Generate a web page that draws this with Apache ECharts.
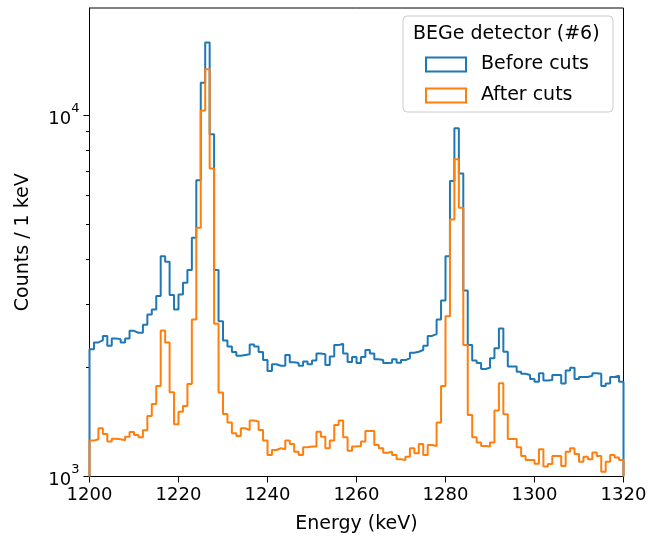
<!DOCTYPE html>
<html>
<head>
<meta charset="utf-8">
<script src="https://cdn.jsdelivr.net/npm/echarts@6/dist/echarts.min.js"></script>
<style>
  html, body { margin: 0; padding: 0; background: #fff; }
  #chart { width: 659px; height: 539px; }
</style>
</head>
<body>
<div id="chart"></div>
<script>
// 1 keV bins from 1200 to 1320
const binStart = 1200
const binWidth = 1

const beforeCuts = [
  2250, 2350, 2380, 2450, 2300, 2410, 2400, 2350, 2410, 2530,
  2500, 2500, 2630, 2810, 2900, 3160, 4070, 3930, 3180, 2900,
  3190, 3440, 3730, 4580, 6610, 12300, 15880, 8850, 3730, 2690,
  2380, 2290, 2210, 2160, 2170, 2180, 2320, 2290, 2210, 2100,
  1960, 2045, 2025, 2025, 2170, 2070, 2060, 2025, 2080, 2045,
  2095, 2190, 2180, 2035, 2150, 2310, 2330, 2190, 2075, 2140,
  2060, 2140, 2240, 2190, 2110, 2100, 2060, 2065, 2110, 2065,
  2100, 2125, 2200, 2215, 2240, 2300, 2450, 2480, 2720, 3070,
  4070, 6570, 9200, 6900, 3270, 2310, 2095, 2060, 1985, 2000,
  2125, 2265, 2570, 2215, 2015, 2015, 1950, 1925, 1910, 1860,
  1830, 1930, 1845, 1850, 1910, 1910, 1810, 1965, 2000, 1860,
  1885, 1885, 1900, 1930, 1925, 1780, 1810, 1885, 1900, 1830
]

const afterCuts = [
  1257, 1268, 1360, 1311, 1249, 1271, 1268, 1260, 1289, 1328,
  1303, 1284, 1342, 1471, 1588, 1781, 2535, 2348, 1711, 1395,
  1512, 1568, 1804, 2719, 4880, 10300, 13400, 7120, 2645, 1708,
  1490, 1410, 1317, 1295, 1360, 1345, 1428, 1419, 1345, 1257,
  1147, 1184, 1197, 1190, 1257, 1230, 1171, 1147, 1205, 1210,
  1210, 1331, 1289, 1197, 1257, 1389, 1428, 1284, 1179, 1210,
  1215, 1249, 1337, 1337, 1222, 1197, 1164, 1171, 1147, 1116,
  1111, 1135, 1197, 1159, 1230, 1147, 1222, 1215, 1410, 1781,
  2778, 5146, 7546, 5544, 2313, 1480, 1284, 1241, 1215, 1210,
  1241, 1522, 1812, 1486, 1270, 1270, 1205, 1140, 1111, 1111,
  1085, 1189, 1065, 1083, 1140, 1140, 1069, 1171, 1197, 1154,
  1099, 1135, 1116, 1166, 1140, 1031, 1099, 1147, 1128, 1111
]

const xTicks = [1200, 1220, 1240, 1260, 1280, 1300, 1320]
const yMajorTicks = [1000, 10000]
const yMinorTicks = [2000, 3000, 4000, 5000, 6000, 7000, 8000, 9000]
const yMin = 1000
const yMax = 19800

const font = 'DejaVu Sans'

// outline of a step histogram, closed down to the axis floor at both ends
function stepOutline(counts) {
  const pts = [[binStart, yMin]]
  counts.forEach((c, i) => pts.push([binStart + i * binWidth, c]))
  pts.push([binStart + counts.length * binWidth, yMin])
  return pts
}

const myChart = echarts.init(document.getElementById('chart'), null, { renderer: 'canvas' })

myChart.setOption({
  animation: false,
  backgroundColor: '#fff',
  title: {
    text: 'BEGe detector (#6)',
    left: 413,
    top: 25,
    padding: 0,
    z: 10,
    textStyle: { fontFamily: font, fontSize: 19, fontWeight: 'normal', color: '#000' }
  },
  legend: {
    orient: 'vertical',
    left: 403,
    top: 16,
    padding: [39, 24, 7, 22],
    itemWidth: 40,
    itemHeight: 14,
    itemGap: 12,
    borderColor: '#cccccc',
    borderWidth: 1,
    borderRadius: 4,
    backgroundColor: 'rgba(255,255,255,0.8)',
    textStyle: { fontFamily: font, fontSize: 19, color: '#000', padding: [0, 0, 0, 10] },
    data: [
      { name: 'Before cuts', icon: 'rect', itemStyle: { color: 'transparent', borderColor: '#1f77b4', borderWidth: 2 } },
      { name: 'After cuts', icon: 'rect', itemStyle: { color: 'transparent', borderColor: '#ff7f0e', borderWidth: 2 } }
    ]
  },
  grid: {
    left: 89.5,
    right: 35.5,
    top: 8,
    bottom: 62.5,
    show: true,
    borderColor: '#000',
    borderWidth: 1
  },
  xAxis: {
    type: 'value',
    min: xTicks[0],
    max: xTicks[xTicks.length - 1],
    interval: 20,
    name: 'Energy (keV)',
    nameLocation: 'middle',
    nameGap: 38,
    nameTextStyle: { fontFamily: font, fontSize: 19, color: '#000' },
    axisLine: { show: true, lineStyle: { color: '#000', width: 1 } },
    axisTick: { show: true, length: 6, lineStyle: { color: '#000' } },
    axisLabel: { fontFamily: font, fontSize: 18, color: '#000', margin: 10, formatter: v => String(v) },
    splitLine: { show: false }
  },
  yAxis: [
    {
      type: 'log',
      logBase: 10,
      min: yMin,
      max: yMax,
      name: 'Counts / 1 keV',
      nameLocation: 'middle',
      nameGap: 57,
      nameTextStyle: { fontFamily: font, fontSize: 19, color: '#000' },
      axisLine: { show: true, lineStyle: { color: '#000', width: 1 } },
      axisTick: { show: true, length: 6, customValues: yMajorTicks, lineStyle: { color: '#000' } },
      axisLabel: {
        customValues: yMajorTicks,
        margin: 10,
        formatter: v => '{b|10}{s|' + Math.round(Math.log10(v)) + '}',
        rich: {
          b: { fontFamily: font, fontSize: 18, color: '#000', verticalAlign: 'bottom', lineHeight: 26 },
          s: { fontFamily: font, fontSize: 13, color: '#000', verticalAlign: 'top', lineHeight: 26 }
        }
      },
      splitLine: { show: false }
    },
    {
      type: 'log',
      logBase: 10,
      min: yMin,
      max: yMax,
      position: 'left',
      axisLine: { show: false },
      axisTick: { show: true, length: 3.5, customValues: yMinorTicks, lineStyle: { color: '#000' } },
      axisLabel: { show: false },
      splitLine: { show: false }
    }
  ],
  series: [
    {
      name: 'Before cuts',
      type: 'line',
      step: 'end',
      showSymbol: false,
      color: '#1f77b4',
      lineStyle: { width: 2, color: '#1f77b4' },
      data: stepOutline(beforeCuts)
    },
    {
      name: 'After cuts',
      type: 'line',
      step: 'end',
      showSymbol: false,
      color: '#ff7f0e',
      lineStyle: { width: 2, color: '#ff7f0e' },
      data: stepOutline(afterCuts)
    }
  ]
})
</script>
</body>
</html>
